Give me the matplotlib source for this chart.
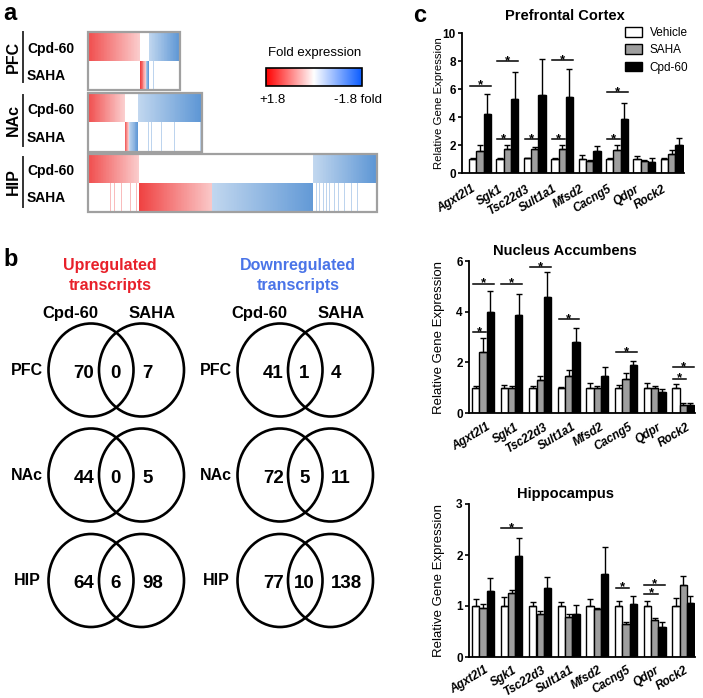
import numpy as np
import matplotlib
matplotlib.use('Agg')
import matplotlib.pyplot as plt
from matplotlib.patches import Rectangle, Ellipse, Patch
from matplotlib.colors import LinearSegmentedColormap
from matplotlib.transforms import ScaledTranslation

plt.rcParams['font.family'] = ['Liberation Sans', 'DejaVu Sans']

# ---------------- data ----------------
regions = ['PFC', 'NAc', 'HIP']
# Venn counts (panel b)
up_cpd_only = [70, 44, 64]
up_shared = [0, 0, 6]
up_saha_only = [7, 5, 98]
down_cpd_only = [41, 72, 77]
down_shared = [1, 5, 10]
down_saha_only = [4, 11, 138]

# heatmap (panel a): positions of shared genes inside the Cpd-60 blocks
hm_up_shared_idx = [[], [], [24, 30, 36, 45, 57, 65]]
hm_down_shared_idx = [[6], [12, 16, 28, 43, 75], [4, 8, 14, 18, 22, 29, 34, 42, 52, 60]]
# colour strength at the two ends of each sorted block (0 = white, 1 = full colour)
hm_cpd_up_range = (0.8, 0.22)
hm_cpd_down_range = (0.28, 0.75)
hm_saha_up_range = (0.85, 0.25)
hm_saha_down_range = (0.28, 0.72)
hm_shared_strength = 0.3
colorbar_labels = ['+1.8', '-1.8 fold']

# panel c
genes = ['Agxt2l1', 'Sgk1', 'Tsc22d3', 'Sult1a1', 'Mfsd2', 'Cacng5', 'Qdpr', 'Rock2']
groups = ['Vehicle', 'SAHA', 'Cpd-60']

pfc_veh = [1.0, 1.0, 1.05, 1.0, 1.0, 1.0, 1.0, 1.0]
pfc_veh_err = [0.05, 0.05, 0.05, 0.05, 0.3, 0.1, 0.2, 0.08]
pfc_saha = [1.6, 1.69, 1.69, 1.69, 0.86, 1.67, 0.88, 1.36]
pfc_saha_err = [0.38, 0.29, 0.2, 0.29, 0.1, 0.31, 0.05, 0.26]
pfc_cpd = [4.24, 5.29, 5.55, 5.43, 1.55, 3.86, 0.79, 2.0]
pfc_cpd_err = [1.43, 1.9, 2.6, 2.0, 0.35, 1.14, 0.26, 0.48]
pfc_sig = [(0, 2, 6.24), (1, 1, 2.43), (1, 2, 7.98), (2, 1, 2.43),
           (3, 1, 2.43), (3, 2, 8.05), (5, 1, 2.43), (5, 2, 5.76)]

nac_veh = [1.0, 1.0, 1.0, 1.0, 1.0, 1.0, 1.0, 1.0]
nac_veh_err = [0.08, 0.12, 0.07, 0.03, 0.17, 0.12, 0.18, 0.15]
nac_saha = [2.41, 1.0, 1.3, 1.45, 1.0, 1.35, 0.97, 0.32]
nac_saha_err = [0.55, 0.08, 0.15, 0.25, 0.08, 0.22, 0.1, 0.08]
nac_cpd = [3.98, 3.86, 4.58, 2.79, 1.48, 1.9, 0.83, 0.32]
nac_cpd_err = [0.82, 0.85, 0.98, 0.58, 0.35, 0.17, 0.1, 0.06]
nac_sig = [(0, 1, 3.2), (0, 2, 5.1), (1, 2, 5.1), (2, 2, 5.75),
           (3, 2, 3.7), (5, 2, 2.4), (7, 1, 1.35), (7, 2, 1.8)]

hip_veh = [1.0, 1.0, 1.0, 1.0, 1.0, 1.0, 1.0, 1.0]
hip_veh_err = [0.14, 0.17, 0.08, 0.08, 0.14, 0.1, 0.1, 0.15]
hip_saha = [0.96, 1.26, 0.85, 0.78, 0.94, 0.64, 0.72, 1.41]
hip_saha_err = [0.08, 0.05, 0.06, 0.06, 0.03, 0.05, 0.04, 0.18]
hip_cpd = [1.29, 1.99, 1.36, 0.84, 1.63, 1.04, 0.59, 1.05]
hip_cpd_err = [0.25, 0.35, 0.2, 0.17, 0.52, 0.16, 0.1, 0.15]
hip_sig = [(1, 2, 2.52), (5, 1, 1.36), (6, 1, 1.24), (6, 2, 1.42)]

# ---------------- figure ----------------
W, H = 703, 698
fig = plt.figure(figsize=(W / 100, H / 100), dpi=100)
ov = fig.add_axes([0, 0, 1, 1], zorder=0)
ov.axis('off')
PX = 100 / 72.0


def T(x, y, s, size, ha='center', weight='bold', color='black', rot=0, **kw):
    # y is the visual centre of capital letters
    if rot == 0:
        ov.text(x, y + 0.36 * size * PX, s, fontsize=size, ha=ha, va='baseline',
                fontweight=weight, color=color, **kw)
    else:
        ov.text(x + 0.36 * size * PX, y, s, fontsize=size, ha='center', va='baseline',
                rotation=rot, rotation_mode='anchor', fontweight=weight, color=color, **kw)


RED = np.array([0.93, 0.13, 0.13])
BLUE = np.array([0.15, 0.45, 0.78])


def blend(base, s):
    return 1 - s * (1 - base)


# ---------------- panel a ----------------
T(3, 12, 'a', 17, ha='left')
hm_boxes = [(88, 180, 32, 90), (88, 202, 93, 152), (88, 377, 154, 212)]
label_lines = [(32, 82), (95, 146), (157, 207)]
for r in range(3):
    x0, x1, y0, y1 = hm_boxes[r]
    n_up = up_cpd_only[r] + up_shared[r]
    n_su = up_saha_only[r]
    n_sd = down_saha_only[r]
    n_dn = down_cpd_only[r] + down_shared[r]
    n = n_up + n_su + n_sd + n_dn
    cpd = np.ones((n, 3))
    saha = np.ones((n, 3))
    cpd[:n_up] = [blend(RED, s) for s in np.linspace(*hm_cpd_up_range, n_up)]
    cpd[n - n_dn:] = [blend(BLUE, s) for s in np.linspace(*hm_cpd_down_range, n_dn)]
    saha[n_up:n_up + n_su] = [blend(RED, s) for s in np.linspace(*hm_saha_up_range, n_su)]
    saha[n_up + n_su:n_up + n_su + n_sd] = [blend(BLUE, s) for s in np.linspace(*hm_saha_down_range, n_sd)]
    for i in hm_up_shared_idx[r]:
        saha[i] = blend(RED, hm_shared_strength)
    for i in hm_down_shared_idx[r]:
        saha[n - n_dn + i] = blend(BLUE, hm_shared_strength)
    ym = (y0 + y1) / 2
    ov.imshow(cpd[None, :, :], extent=(x0, x1, ym, y0), aspect='auto', interpolation='nearest')
    ov.imshow(saha[None, :, :], extent=(x0, x1, y1, ym), aspect='auto', interpolation='nearest')
    ov.add_patch(Rectangle((x0, y0), x1 - x0, y1 - y0, fill=False, ec='#a0a0a0', lw=1.6))
    la, lb = label_lines[r]
    ov.plot([23, 23], [la, lb], color='#333333', lw=1.4)
    T(12, (la + lb) / 2, regions[r], 11.5, rot=90)
    T(27, (y0 + ym) / 2 + 1, 'Cpd-60', 10, ha='left')
    T(27, (ym + y1) / 2, 'SAHA', 10, ha='left')

cb_cmap = LinearSegmentedColormap.from_list('cb', ['#ff0000', '#ffffff', '#0a5cff'])
ov.imshow(np.linspace(0, 1, 256)[None, :], cmap=cb_cmap, extent=(266, 362, 86, 68),
          aspect='auto', interpolation='bilinear')
ov.add_patch(Rectangle((266, 68), 96, 18, fill=False, ec='black', lw=1.2))
T(315, 51, 'Fold expression', 9.5, weight='normal')
T(273, 98, colorbar_labels[0], 9.5, weight='normal')
T(358, 98, colorbar_labels[1], 9.5, weight='normal')

# ---------------- panel b ----------------
T(3, 258, 'b', 17, ha='left')
T(110, 264, 'Upregulated', 11.5, color='#e8202a')
T(110, 284, 'transcripts', 11.5, color='#e8202a')
T(298, 264, 'Downregulated', 11.5, color='#4a74e8')
T(298, 284, 'transcripts', 11.5, color='#4a74e8')
for cx in (91, 280):
    T(cx - 21, 312, 'Cpd-60', 12)
    T(cx + 61, 312, 'SAHA', 12)

row_y = [370, 475, 580.5]
venn_sets = [(up_cpd_only, up_shared, up_saha_only, 91),
             (down_cpd_only, down_shared, down_saha_only, 280)]
for (a_only, shared, b_only, cl) in venn_sets:
    cr = cl + 50.5
    for r in range(3):
        cy = row_y[r]
        for cx in (cl, cr):
            ov.add_patch(Ellipse((cx, cy), 85, 93, fill=False, ec='black', lw=1.9))
        T(cl - 64, cy - 1, regions[r], 11.5)
        T(cl + 3.5, cy + 1, str(a_only[r]), 13.5, ha='right')
        T((cl + cr) / 2 - 1, cy + 1, str(shared[r]), 13.5)
        T(cr + 0.5, cy + 1, str(b_only[r]), 13.5, ha='left')

# ---------------- panel c ----------------
T(413, 13, 'c', 17, ha='left')


def add_axes_px(l, r, t, b):
    return fig.add_axes([l / W, 1 - b / H, (r - l) / W, (b - t) / H], zorder=2)


panels = [
    dict(box=(462, 684, 33, 173), first=469, pitch=27.4, ymax=10, yt=[0, 2, 4, 6, 8, 10],
         data=(pfc_veh, pfc_veh_err, pfc_saha, pfc_saha_err, pfc_cpd, pfc_cpd_err),
         sig=pfc_sig, title='Prefrontal Cortex', ty=15, ylsize=8.2, lab_off=(-9, 10)),
    dict(box=(469, 695, 261, 413), first=472, pitch=28.6, ymax=6, yt=[0, 2, 4, 6],
         data=(nac_veh, nac_veh_err, nac_saha, nac_saha_err, nac_cpd, nac_cpd_err),
         sig=nac_sig, title='Nucleus Accumbens', ty=250, ylsize=9.5, lab_off=(3, 8)),
    dict(box=(469, 695, 504, 657), first=472, pitch=28.6, ymax=3, yt=[0, 1, 2, 3],
         data=(hip_veh, hip_veh_err, hip_saha, hip_saha_err, hip_cpd, hip_cpd_err),
         sig=hip_sig, title='Hippocampus', ty=493, ylsize=9.5, lab_off=(1, 7)),
]
bar_colors = ['white', '#9e9e9e', 'black']
barw_px = 7.3
for k, p in enumerate(panels):
    l, r, t, b = p['box']
    ax = add_axes_px(l, r, t, b)
    pitch = p['pitch']
    c0 = p['first'] + 1.5 * barw_px
    w = barw_px / pitch
    ax.set_xlim((l - c0) / pitch, (r - c0) / pitch)
    ax.set_ylim(0, p['ymax'])
    x = np.arange(len(genes))
    vals = p['data']
    for g in range(3):
        xs = x + (g - 1) * w
        ax.bar(xs, vals[2 * g], width=w, color=bar_colors[g], edgecolor='black',
               linewidth=1.0, zorder=2)
        ax.errorbar(xs, vals[2 * g], yerr=[np.zeros(len(genes)), vals[2 * g + 1]],
                    fmt='none', ecolor='black', elinewidth=1.0, capsize=2.3,
                    capthick=1.0, zorder=3)
    for (gi, tgt, yv) in p['sig']:
        xa = gi - 1.5 * w + 0.1 * w
        xb = gi + (tgt - 1) * w + 0.5 * w - 0.05 * w
        ax.plot([xa, xb], [yv, yv], color='black', lw=1.1, zorder=4, clip_on=False)
        ax.annotate('*', ((xa + xb) / 2, yv), xytext=(0, -2.0), textcoords='offset points',
                    ha='center', va='baseline', fontsize=9.5, fontweight='bold',
                    annotation_clip=False)
    for s in ('top', 'right'):
        ax.spines[s].set_visible(False)
    for s in ('left', 'bottom'):
        ax.spines[s].set_linewidth(1.3)
    ax.set_yticks(p['yt'])
    ax.set_yticklabels([str(v) for v in p['yt']], fontweight='bold', fontsize=8.5)
    ax.tick_params(axis='y', length=3, width=1.2, pad=1.5)
    ax.set_xticks(x)
    ax.set_xticklabels(genes, rotation=31, ha='right', rotation_mode='anchor',
                       fontsize=8.5, fontweight='bold', fontstyle='italic')
    ax.tick_params(axis='x', length=0, pad=0)
    dx, dy = p['lab_off']
    off = ScaledTranslation(dx / 100, -dy / 100, fig.dpi_scale_trans)
    for lab in ax.get_xticklabels():
        lab.set_transform(lab.get_transform() + off)
    ax.patch.set_alpha(0)
    ov.text(439, (t + b) / 2, 'Relative Gene Expression', rotation=90, ha='center',
            va='center', fontsize=p['ylsize'])
    T(565, p['ty'], p['title'], 10.5)
    if k == 0:
        handles = [Patch(facecolor=c, edgecolor='black', linewidth=1.0) for c in bar_colors]
        ax.legend(handles, groups, loc='upper left', bbox_to_anchor=(625 / W, 1 - 27 / H),
                  bbox_transform=fig.transFigure, frameon=False, fontsize=8.5,
                  handlelength=1.4, handleheight=0.9, handletextpad=0.7,
                  labelspacing=0.45, borderpad=0, borderaxespad=0)

ov.set_xlim(0, W)
ov.set_ylim(H, 0)
fig.savefig('out.png', dpi=100)
